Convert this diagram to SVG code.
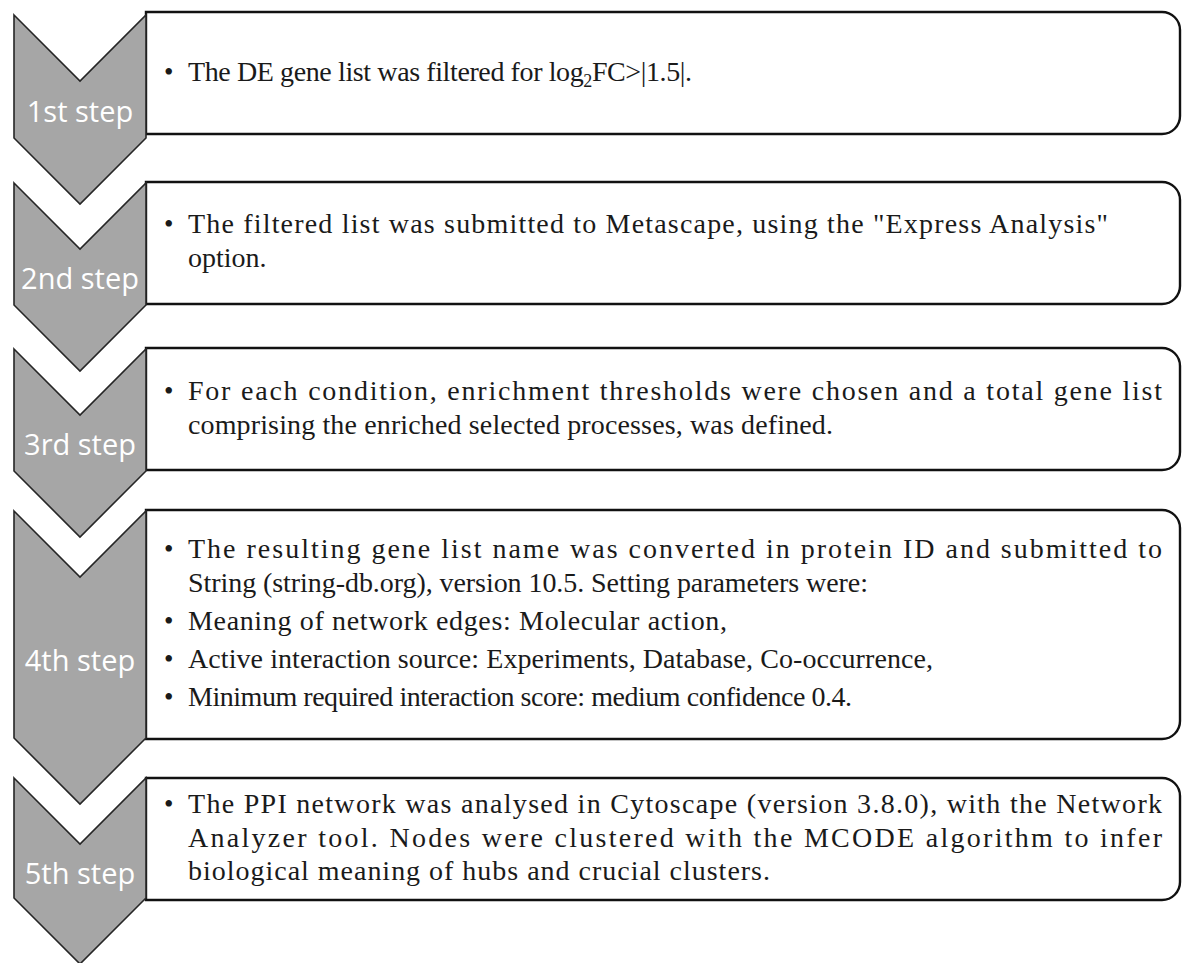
<svg xmlns="http://www.w3.org/2000/svg" width="1184" height="963" viewBox="0 0 1184 963">
<style>
.chev{fill:#a6a6a6;stroke:#262626;stroke-width:1.6;stroke-linejoin:miter}
.box{fill:#ffffff;stroke:#111111;stroke-width:2.4}
.lbl{font-family:"Open Sans","Liberation Sans",sans-serif;font-size:29px;fill:#ffffff;text-anchor:middle}
.txt{font-family:"Liberation Serif","Times New Roman",serif;font-size:28px;fill:#1a1a1a}
.bul{font-family:"Liberation Serif","Times New Roman",serif;font-size:27px;fill:#1a1a1a}
</style>
<rect width="1184" height="963" fill="#ffffff"/>
<g id="connectors"></g>
<g id="step1">
<path class="box" d="M146,12 H1162 A18,18 0 0 1 1180,30 V116 A18,18 0 0 1 1162,134 H146 Z"/>
<path class="chev" d="M14,15 L80,81 L146,15 L146,138 L80,204 L14,138 Z"/>
<text class="lbl" x="80" y="122">1st step</text>
<text class="bul" x="164" y="81">•</text>
<text class="txt" x="188" y="81" textLength="504" lengthAdjust="spacing">The DE gene list was filtered for log<tspan font-size="18" dy="6">2</tspan><tspan dy="-6">FC&gt;|1.5|.</tspan></text>
</g>
<g id="step2">
<path class="box" d="M146,182 H1162 A18,18 0 0 1 1180,200 V286 A18,18 0 0 1 1162,304 H146 Z"/>
<path class="chev" d="M14,183 L80,249 L146,183 L146,305 L80,371 L14,305 Z"/>
<text class="lbl" x="80" y="289">2nd step</text>
<text class="bul" x="164" y="233">•</text>
<text class="txt" x="188" y="233" textLength="920" lengthAdjust="spacing">The filtered list was submitted to Metascape, using the "Express Analysis"</text>
<text class="txt" x="188" y="267">option.</text>
</g>
<g id="step3">
<path class="box" d="M146,348 H1162 A18,18 0 0 1 1180,366 V452 A18,18 0 0 1 1162,470 H146 Z"/>
<path class="chev" d="M14,349 L80,415 L146,349 L146,471 L80,537 L14,471 Z"/>
<text class="lbl" x="80" y="455">3rd step</text>
<text class="bul" x="164" y="400">•</text>
<text class="txt" x="188" y="400" textLength="974" lengthAdjust="spacing">For each condition, enrichment thresholds were chosen and a total gene list</text>
<text class="txt" x="188" y="434" textLength="645" lengthAdjust="spacing">comprising the enriched selected processes, was defined.</text>
</g>
<g id="step4">
<path class="box" d="M146,510 H1162 A18,18 0 0 1 1180,528 V721 A18,18 0 0 1 1162,739 H146 Z"/>
<path class="chev" d="M14,511 L80,577 L146,511 L146,738 L80,804 L14,738 Z"/>
<text class="lbl" x="80" y="671">4th step</text>
<text class="bul" x="164" y="558">•</text>
<text class="txt" x="188" y="558" textLength="974" lengthAdjust="spacing">The resulting gene list name was converted in protein ID and submitted to</text>
<text class="txt" x="188" y="592" textLength="680" lengthAdjust="spacing">String (string-db.org), version 10.5. Setting parameters were:</text>
<text class="bul" x="164" y="630">•</text>
<text class="txt" x="188" y="630" textLength="539" lengthAdjust="spacing">Meaning of network edges: Molecular action,</text>
<text class="bul" x="164" y="668">•</text>
<text class="txt" x="188" y="668" textLength="745" lengthAdjust="spacing">Active interaction source: Experiments, Database, Co-occurrence,</text>
<text class="bul" x="164" y="706">•</text>
<text class="txt" x="188" y="706" textLength="664" lengthAdjust="spacing">Minimum required interaction score: medium confidence 0.4.</text>
</g>
<g id="step5">
<path class="box" d="M146,778 H1162 A18,18 0 0 1 1180,796 V882 A18,18 0 0 1 1162,900 H146 Z"/>
<path class="chev" d="M14,778 L80,844 L146,778 L146,898 L80,964 L14,898 Z"/>
<text class="lbl" x="80" y="884">5th step</text>
<text class="bul" x="164" y="813">•</text>
<text class="txt" x="188" y="813" textLength="974" lengthAdjust="spacing">The PPI network was analysed in Cytoscape (version 3.8.0), with the Network</text>
<text class="txt" x="188" y="847" textLength="974" lengthAdjust="spacing">Analyzer tool. Nodes were clustered with the MCODE algorithm to infer</text>
<text class="txt" x="188" y="880" textLength="582" lengthAdjust="spacing">biological meaning of hubs and crucial clusters.</text>
</g>
</svg>
